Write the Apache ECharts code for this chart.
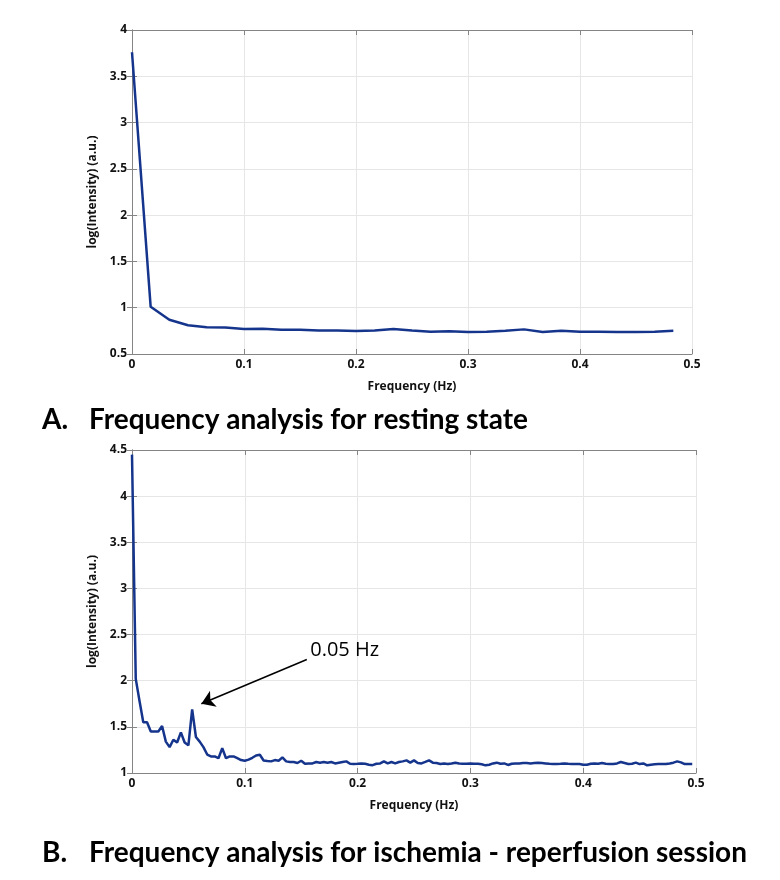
<!DOCTYPE html>
<html>
<head>
<meta charset="utf-8">
<script src="https://cdn.jsdelivr.net/npm/echarts@6/dist/echarts.min.js"></script>
<style>
  html, body { margin: 0; padding: 0; background: #fff; }
  #chart { width: 780px; height: 880px; }
</style>
</head>
<body>
<div id="chart"></div>
<script>
// 频率步长（Hz）
const restStep = 1 / 60;
const ischStep = 1 / 300;

// A. 静息状态
const restValues = [
  3.76, 1.01, 0.87, 0.81, 0.79, 0.785, 0.77, 0.774, 0.763, 0.763,
  0.755, 0.755, 0.748, 0.755, 0.77, 0.755, 0.741, 0.745, 0.737, 0.741,
  0.752, 0.766, 0.737, 0.752, 0.741, 0.741, 0.737, 0.737, 0.741, 0.752
];

// B. 缺血-再灌注
const ischValues = [
  4.45, 2.02, 1.78, 1.55, 1.55, 1.45, 1.45, 1.45, 1.51, 1.34,
  1.28, 1.36, 1.33, 1.44, 1.33, 1.30, 1.69, 1.39, 1.34, 1.28,
  1.20, 1.18, 1.18, 1.16, 1.27, 1.16, 1.18, 1.18, 1.16, 1.14,
  1.133, 1.145, 1.165, 1.19, 1.198, 1.136, 1.13, 1.126, 1.14, 1.133,
  1.169, 1.126, 1.12, 1.119, 1.108, 1.133, 1.10, 1.104, 1.104, 1.119,
  1.112, 1.119, 1.112, 1.119, 1.104, 1.112, 1.119, 1.126, 1.10, 1.097,
  1.10, 1.104, 1.10, 1.09, 1.085, 1.10, 1.104, 1.126, 1.104, 1.119,
  1.104, 1.119, 1.126, 1.137, 1.112, 1.137, 1.108, 1.104, 1.12, 1.137,
  1.112, 1.108, 1.097, 1.104, 1.097, 1.104, 1.112, 1.104, 1.10, 1.10,
  1.104, 1.10, 1.10, 1.094, 1.083, 1.09, 1.104, 1.112, 1.10, 1.104,
  1.087, 1.10, 1.104, 1.104, 1.108, 1.108, 1.104, 1.108, 1.112, 1.108,
  1.104, 1.10, 1.097, 1.097, 1.10, 1.104, 1.10, 1.097, 1.097, 1.097,
  1.09, 1.09, 1.10, 1.104, 1.10, 1.108, 1.10, 1.097, 1.097, 1.104,
  1.119, 1.108, 1.097, 1.10, 1.112, 1.097, 1.104, 1.083, 1.09, 1.094,
  1.097, 1.097, 1.097, 1.104, 1.112, 1.126, 1.115, 1.097, 1.097, 1.097
];

// 坐标轴刻度
const xTicks = { min: 0, max: 0.5, interval: 0.1 };
const restYTicks = { min: 0.5, max: 4, interval: 0.5 };
const ischYTicks = { min: 1, max: 4.5, interval: 0.5 };

// 标注
const peakNote = { text: '0.05 Hz', from: [0.155, 2.23], to: [0.0615, 1.75], label: [0.158, 2.33] };

const titleA = ['A.', 'Frequency analysis for resting state'];
const titleB = ['B.', 'Frequency analysis for ischemia - reperfusion session'];
const xName = 'Frequency (Hz)';
const yName = 'log(Intensity) (a.u.)';

const lineColor = '#15348c';
const frameColor = '#858585';
const gridColor = '#e6e6e6';
const tickFont = 'Open Sans';

function toPairs(values, step) {
  return values.map((v, i) => [i * step, v]);
}

const labelStyle = { color: '#111', fontSize: 12, fontWeight: 'bold', fontFamily: tickFont };

function xAxisFor(gridIndex) {
  return [
    {
      type: 'value', gridIndex, ...xTicks,
      name: xName, nameLocation: 'middle', nameGap: 27,
      nameTextStyle: labelStyle,
      axisLine: { show: true, lineStyle: { color: frameColor } },
      axisTick: { show: true, inside: true, length: 5, lineStyle: { color: frameColor } },
      axisLabel: { ...labelStyle, margin: 5 },
      splitLine: { show: true, lineStyle: { color: gridColor } }
    },
    {
      type: 'value', gridIndex, position: 'top', ...xTicks,
      axisLine: { show: true, lineStyle: { color: frameColor } },
      axisTick: { show: true, inside: true, length: 5, lineStyle: { color: frameColor } },
      axisLabel: { show: false },
      splitLine: { show: false }
    }
  ];
}

function yAxisFor(gridIndex, ticks) {
  return [
    {
      type: 'value', gridIndex, ...ticks,
      name: yName, nameLocation: 'middle', nameGap: 32,
      nameTextStyle: labelStyle,
      axisLine: { show: true, lineStyle: { color: frameColor } },
      axisTick: { show: true, inside: true, length: 5, lineStyle: { color: frameColor } },
      axisLabel: { ...labelStyle, margin: 5 },
      splitLine: { show: true, lineStyle: { color: gridColor } }
    },
    {
      type: 'value', gridIndex, position: 'right', ...ticks,
      axisLine: { show: true, lineStyle: { color: frameColor } },
      axisTick: { show: true, inside: true, length: 5, lineStyle: { color: frameColor } },
      axisLabel: { show: false },
      splitLine: { show: false }
    }
  ];
}

const titleStyle = { color: '#000', fontSize: 28, fontWeight: 'bold', fontFamily: 'Lato' };

const chart = echarts.init(document.getElementById('chart'));
chart.setOption({
  animation: false,
  backgroundColor: '#fff',
  title: [
    { text: titleA[0], left: 42, top: 406, padding: 0, textStyle: titleStyle },
    { text: titleA[1], left: 89, top: 406, padding: 0, textStyle: titleStyle },
    { text: titleB[0], left: 42, top: 839, padding: 0, textStyle: titleStyle },
    { text: titleB[1], left: 89, top: 839, padding: 0, textStyle: titleStyle }
  ],
  grid: [
    { left: 132, top: 30, width: 560, height: 324 },
    { left: 132, top: 450, width: 564, height: 323 }
  ],
  xAxis: [...xAxisFor(0), ...xAxisFor(1)],
  yAxis: [...yAxisFor(0, restYTicks), ...yAxisFor(1, ischYTicks)],
  series: [
    {
      type: 'line', xAxisIndex: 0, yAxisIndex: 0,
      data: toPairs(restValues, restStep),
      showSymbol: false, symbol: 'none',
      lineStyle: { color: lineColor, width: 2.5 }
    },
    {
      type: 'line', xAxisIndex: 2, yAxisIndex: 2,
      data: toPairs(ischValues, ischStep),
      showSymbol: false, symbol: 'none',
      lineStyle: { color: lineColor, width: 2.5 },
      markLine: {
        silent: true,
        symbol: ['none', 'arrow'],
        symbolSize: 13,
        label: { show: false },
        itemStyle: { color: '#000' },
        lineStyle: { color: '#000', width: 1.5, type: 'solid' },
        data: [[{ coord: peakNote.from }, { coord: peakNote.to }]]
      },
      markPoint: {
        silent: true,
        symbol: 'circle', symbolSize: 0,
        label: {
          show: true, position: 'right', distance: 0,
          formatter: peakNote.text,
          color: '#000', fontSize: 20, fontFamily: 'Open Sans'
        },
        data: [{ coord: peakNote.label }]
      }
    }
  ]
});
</script>
</body>
</html>
